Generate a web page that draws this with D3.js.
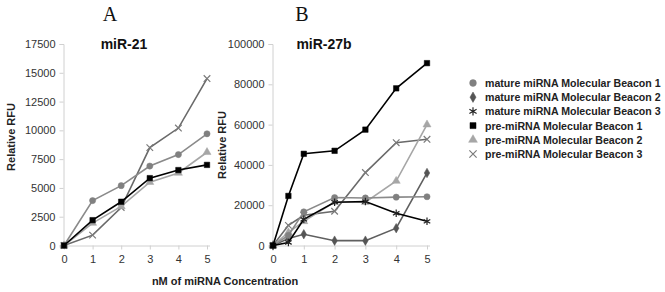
<!DOCTYPE html>
<html><head><meta charset="utf-8">
<script src="https://cdn.jsdelivr.net/npm/d3@7"></script>
<style>body{margin:0;background:#fff}svg{display:block}text{font-family:Arial,"Liberation Sans",sans-serif}</style>
</head><body>
<svg id="c" width="665" height="292"></svg>
<script>
// ---- Data ----
const seriesNames = ["mature miRNA Molecular Beacon 1","mature miRNA Molecular Beacon 2","mature miRNA Molecular Beacon 3","pre-miRNA Molecular Beacon 1","pre-miRNA Molecular Beacon 2","pre-miRNA Molecular Beacon 3"];
const xA = [0,1,2,3,4,5];
const aMature1 = [0,3900,5200,6900,7900,9700];
const aPre1    = [0,2200,3800,5850,6550,7000];
const aPre2    = [0,1950,3400,5500,6300,8100];
const aPre3    = [0,900,3300,8500,10200,14500];
const xB = [0,0.5,1,2,3,4,5];
const bMature1 = [0,5000,16700,23800,23600,24000,24200];
const bMature2 = [0,3500,5600,2400,2400,8600,36000];
const bMature3 = [0,1500,13000,21500,21800,16000,12000];
const bPre1    = [0,24600,45500,47000,57500,78000,90500];
const bPre2    = [0,6500,12000,21500,21500,32000,60000];
const bPre3    = [0,10000,15000,17000,36200,51000,52700];
const ticksA = [0,2500,5000,7500,10000,12500,15000,17500];
const ticksB = [0,20000,40000,60000,80000,100000];
const xTicks = [0,1,2,3,4,5];

const styles = [
  {sym:d3.symbolCircle, color:"#808080", line:"#8a8a8a", fill:true, size:30},
  {sym:d3.symbolDiamond, color:"#555555", line:"#5f5f5f", fill:true, size:26},
  {sym:d3.symbolAsterisk, color:"#222222", line:"#000000", fill:false, size:40},
  {sym:d3.symbolSquare, color:"#000000", line:"#000000", fill:true, size:30},
  {sym:d3.symbolTriangle, color:"#a6a6a6", line:"#a6a6a6", fill:true, size:28},
  {sym:d3.symbolX, color:"#7a7a7a", line:"#6a6a6a", fill:false, size:30}
];

const svg = d3.select("#c");

function panel(opts){
  const x = d3.scaleLinear().domain([0,5]).range([opts.x0, opts.x1]);
  const y = d3.scaleLinear().domain([0,opts.ymax]).range([245.5, 44]);
  const g = svg.append("g");
  const ya = g.append("g").attr("transform",`translate(${opts.x0-0.5},0)`)
    .call(d3.axisLeft(y).tickValues(opts.yticks).tickSize(4).tickPadding(4).tickFormat(d3.format("d")));
  const xa = g.append("g").attr("transform","translate(0,245.5)")
    .call(d3.axisBottom(x).tickValues(xTicks).tickSize(4).tickPadding(6).tickFormat(d3.format("d")));
  [ya,xa].forEach(a=>{
    a.select(".domain").attr("stroke","#d0d0d0");
    a.selectAll(".tick line").attr("stroke","#d0d0d0");
    a.selectAll("text").attr("fill","#333").style("font-size","11px");
  });
  xa.select(".domain").attr("d",`M${opts.x0-0.5},0.5H${opts.x1+3}`);
  opts.series.forEach(s=>{
    const st = styles[s.idx];
    const pts = s.xs.map((v,i)=>[v,s.ys[i]]);
    g.append("path").datum(pts)
      .attr("fill","none").attr("stroke",st.line).attr("stroke-width",1.6)
      .attr("d",d3.line().x(d=>x(d[0])).y(d=>y(d[1])));
    g.selectAll(null).data(pts).enter().append("path")
      .attr("transform",d=>`translate(${x(d[0])},${y(d[1])})`)
      .attr("d",d3.symbol().type(st.sym).size(st.size))
      .attr("fill",st.fill?st.color:"none")
      .attr("stroke",st.color).attr("stroke-width",st.fill?0.5:1.2);
  });
  g.append("text").attr("x",opts.titleX).attr("y",49).attr("text-anchor","middle")
    .style("font-size","14px").style("font-weight","bold").attr("fill","#111").text(opts.title);
  g.append("text").attr("x",opts.letterX).attr("y",21).attr("text-anchor","middle")
    .style("font-family","'Liberation Serif','DejaVu Serif',serif").style("font-size","20px").attr("fill","#111").text(opts.letter);
  g.append("text").attr("transform",`translate(${opts.ylabX},${opts.ylabY}) rotate(-90)`)
    .attr("text-anchor","middle").style("font-size","11px").style("font-weight","bold").attr("fill","#222").text("Relative RFU");
}

panel({x0:64, x1:207, ymax:17500, yticks:ticksA, title:"miR-21", titleX:124, letter:"A", letterX:110, ylabX:15, ylabY:137,
  series:[
    {idx:5, xs:xA, ys:aPre3},
    {idx:0, xs:xA, ys:aMature1},
    {idx:4, xs:xA, ys:aPre2},
    {idx:3, xs:xA, ys:aPre1}
  ]});
panel({x0:273, x1:427, ymax:100000, yticks:ticksB, title:"miR-27b", titleX:324, letter:"B", letterX:302, ylabX:226, ylabY:145,
  series:[
    {idx:1, xs:xB, ys:bMature2},
    {idx:5, xs:xB, ys:bPre3},
    {idx:4, xs:xB, ys:bPre2},
    {idx:0, xs:xB, ys:bMature1},
    {idx:2, xs:xB, ys:bMature3},
    {idx:3, xs:xB, ys:bPre1}
  ]});

svg.append("text").attr("x",225).attr("y",285).attr("text-anchor","middle")
  .style("font-size","11px").style("font-weight","bold").attr("fill","#222").text("nM of miRNA Concentration");

const lg = svg.append("g");
seriesNames.forEach((n,i)=>{
  const yy = 83 + i*14.2;
  const st = styles[i];
  lg.append("path").attr("transform",`translate(473,${yy})`)
    .attr("d",d3.symbol().type(st.sym).size(st.size*1.2))
    .attr("fill",st.fill?st.color:"none").attr("stroke",st.color).attr("stroke-width",st.fill?0.5:1.2);
  lg.append("text").attr("x",485).attr("y",yy+4).style("font-size","10.6px").style("font-weight","bold")
    .attr("fill","#222").text(n);
});
</script>
</body></html>
